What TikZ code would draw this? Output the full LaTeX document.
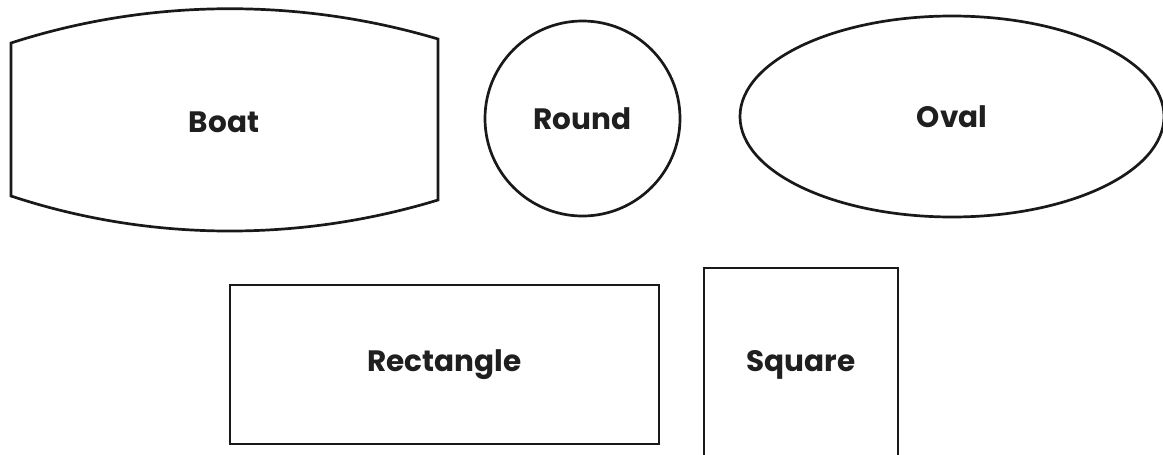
\documentclass[tikz,border=0pt]{standalone}
\usepackage{fontspec}
\setmainfont{Poppins}
\usetikzlibrary{shapes.geometric}
\begin{document}
\begin{tikzpicture}[x=1pt,y=-1pt,
  shp/.style={draw=black!90, line width=2.7pt, inner sep=0pt},
  lbl/.style={font=\fontsize{29.5}{32}\selectfont\bfseries, text=black!88}]
\useasboundingbox (0,0) rectangle (1163,455);
\clip (0,0) rectangle (1163,455);
% Boat
\draw[shp, line join=miter] (11,43) .. controls (150,-2) and (300,-2) .. (438,39)
  -- (438,200) .. controls (300,242) and (150,242) .. (11,196) -- cycle;
\node[lbl] (boat) at (224,122) {Boat};
% Round
\node[shp, circle, minimum size=195pt, lbl] (round) at (582.5,118.5) {Round};
% Oval
\node[shp, ellipse, minimum width=424pt, minimum height=201pt, lbl] (oval) at (952,116.5) {Oval};
% Rectangle
\node[shp, rectangle, minimum width=429pt, minimum height=159pt, lbl] (rect) at (444.5,364.5) {Rectangle};
% Square
\node[shp, rectangle, minimum width=194pt, minimum height=194pt, lbl] (square) at (801,365) {Square};
\end{tikzpicture}
\end{document}
